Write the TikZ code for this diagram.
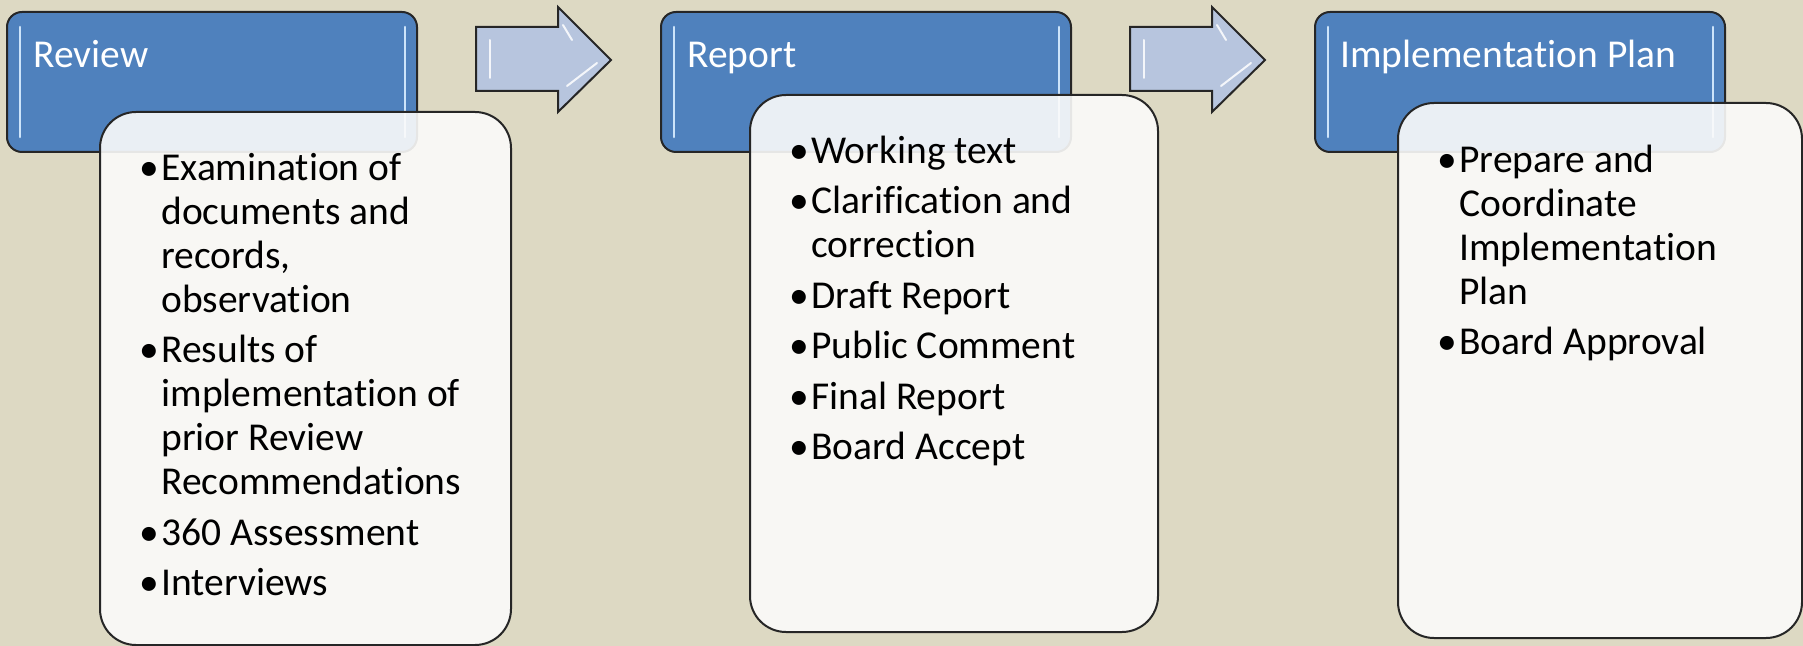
\documentclass[tikz,border=0pt]{standalone}
\usepackage{fontspec}
\setmainfont{Carlito}[Ligatures=CommonOff]
\definecolor{bgtan}{RGB}{221,217,195}
\definecolor{headblue}{RGB}{79,129,189}
\definecolor{arrowblue}{RGB}{183,197,222}
\definecolor{listwhite}{RGB}{251,251,250}
\definecolor{glossblue}{RGB}{205,228,250}

\newcommand{\bul}{\strut\makebox[11pt][l]{\textbullet}}
\newcommand{\cont}{\hspace*{11pt}}

\tikzset{
  headbox/.style={draw=black!85,line width=1pt,fill=headblue,rounded corners=7.5pt},
  gloss/.style={glossblue,line width=1.3pt,line cap=round},
  blockarrow/.style={draw=black!85,line width=1pt,fill=arrowblue,line join=miter},
  arrowgloss/.style={white,line width=1pt,opacity=0.85,line cap=round},
  listbox/.style={draw=black!85,line width=1pt,fill=listwhite,fill opacity=0.9,rounded corners=18pt},
  headtext/.style={anchor=base west,inner sep=0pt,text=white,font=\fontsize{19.75pt}{22pt}\selectfont},
  listtext/.style={anchor=north west,inner sep=0pt,align=left,font=\fontsize{19.75pt}{22pt}\selectfont}
}

\begin{document}
\begin{tikzpicture}[x=0.5pt,y=-0.5pt]

\fill[bgtan] (0,0) rectangle (1803,646);
\useasboundingbox (0,0) rectangle (1803,646);

% title boxes
\foreach \bx in {7,661,1315}{
	\draw[headbox] (\bx,12) rectangle ++(410,140);
	\draw[gloss] (\bx+13,27)--(\bx+13,137);
	\draw[gloss] (\bx+398,27)--(\bx+398,137);
}

% block arrows
\foreach \ax in {476,1130}{
	\draw[blockarrow] (\ax,27) -- ++(82,0) -- ++(0,-20) -- ++(53,53) -- ++(-53,52) -- ++(0,-21) -- ++(-82,0) -- cycle;
	\draw[arrowgloss] (\ax+14,40)--(\ax+14,78);
	\draw[arrowgloss] (\ax+91,86)--(\ax+121,63);
	\draw[arrowgloss] (\ax+87,25)--(\ax+96,40);
}

% list boxes
\draw[listbox] (100,112) rectangle (511,645);
\draw[listbox] (750,95) rectangle (1158,632);
\draw[listbox] (1398,103) rectangle (1802,638);

% titles
\node[headtext] (revhead) at (33,68) {Review};
\node[headtext] (rephead) at (687,68) {Report};
\node[headtext] (planhead) at (1340,68) {Implementation Plan};

% bullet lists
\node[listtext] (revitems) at (139,149.2) {%
	\bul Examination of\\ \cont documents and\\ \cont records,\\ \cont observation\\[3.25pt]
	\bul Results of\\ \cont implementation of\\ \cont prior Review\\ \cont Recommendations\\[3.25pt]
	\bul 360 Assessment\\[3.25pt]
	\bul Interviews};
\node[listtext] (repitems) at (789,132.2) {%
	\bul Working text\\[3.25pt]
	\bul Clarification and\\ \cont correction\\[3.25pt]
	\bul Draft Report\\[3.25pt]
	\bul Public Comment\\[3.25pt]
	\bul Final Report\\[3.25pt]
	\bul Board Accept};
\node[listtext] (planitems) at (1437,141.2) {%
	\bul Prepare and\\ \cont Coordinate\\ \cont Implementation\\ \cont Plan\\[3.25pt]
	\bul Board Approval};

\end{tikzpicture}
\end{document}
